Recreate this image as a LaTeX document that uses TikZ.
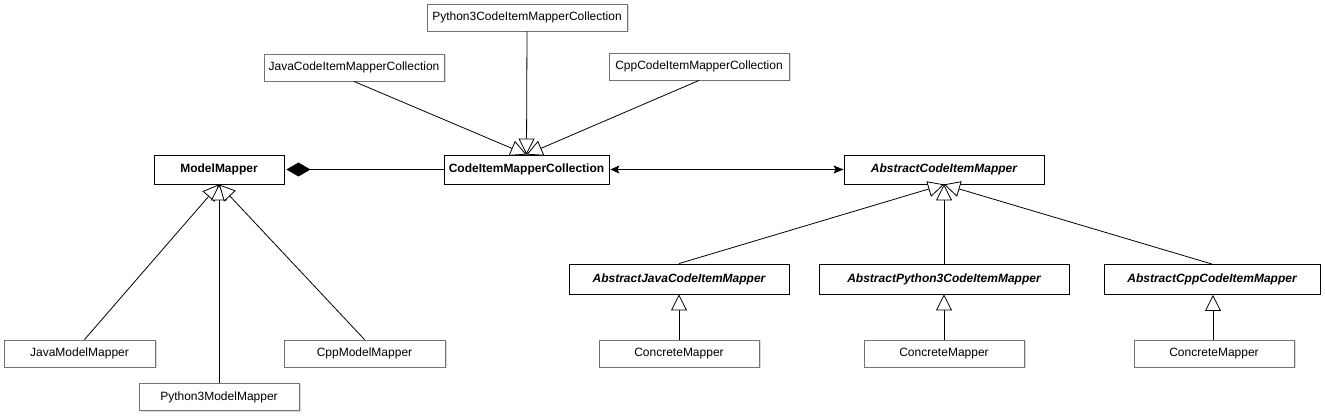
\documentclass[tikz,border=0pt]{standalone}
\usepackage{fontspec}
\setmainfont{Liberation Sans}
\usetikzlibrary{arrows.meta, positioning, shadows}
\tikzset{
  x=1pt, y=-1pt,
  node distance=73pt,
  every node/.style={font=\fontsize{12}{14}\selectfont, inner sep=0pt, minimum height=27pt, fill=white},
  plainbox/.style={draw=black!55, line width=0.9pt, drop shadow={shadow xshift=1.5pt, shadow yshift=-1.5pt, opacity=0.3}},
  boldbox/.style={draw=black, line width=0.9pt, minimum height=29pt, font=\fontsize{12}{14}\selectfont\bfseries},
  absbox/.style={boldbox, minimum height=30pt, font=\fontsize{12}{14}\selectfont\bfseries\itshape},
  inherits/.style={line width=0.8pt, -{Triangle[open, length=16pt, width=16pt, fill=white]}},
  owns/.style={line width=0.8pt, {Diamond[length=24pt, width=14pt]}-},
  assoc/.style={line width=0.8pt, {Stealth[length=9pt, width=8pt, inset=2pt]}-{Stealth[length=10pt, width=8pt, inset=2pt]}},
}
\begin{document}
\begin{tikzpicture}
  \useasboundingbox (0,0) rectangle (1325,419);

  % central classes
  \node[boldbox, minimum width=130pt] (mm) at (219,169.5) {ModelMapper};
  \node[boldbox, minimum width=165pt] (cimc) at (526.5,169.5) {CodeItemMapperCollection};
  \node[absbox, minimum width=200pt, minimum height=29pt] (acim) at (944,169.5) {AbstractCodeItemMapper};

  % collections
  \node[plainbox, minimum width=180pt] (jcimc) at (354,67.5) {JavaCodeItemMapperCollection};
  \node[plainbox, minimum width=200pt] (pcimc) at (527,17.5) {Python3CodeItemMapperCollection};
  \node[plainbox, minimum width=180pt] (ccimc) at (699,66.5) {CppCodeItemMapperCollection};

  % model mappers
  \node[plainbox, minimum width=151pt] (jmm) at (79.5,353.5) {JavaModelMapper};
  \node[plainbox, minimum width=160pt] (pmm) at (219,397) {Python3ModelMapper};
  \node[plainbox, minimum width=161pt] (cmm) at (364.5,353.5) {CppModelMapper};

  % abstract mappers
  \node[absbox, minimum width=220pt] (ajcim) at (679,279) {AbstractJavaCodeItemMapper};
  \node[absbox, minimum width=250pt] (apcim) at (944,279) {AbstractPython3CodeItemMapper};
  \node[absbox, minimum width=216pt] (accim) at (1212,279.5) {AbstractCppCodeItemMapper};

  % concrete mappers
  \node[plainbox, minimum width=160pt, below of=ajcim, yshift=-1.5pt] (jcm) {ConcreteMapper};
  \node[plainbox, minimum width=160pt, below of=apcim, yshift=-1.5pt] (pcm) {ConcreteMapper};
  \node[plainbox, minimum width=160pt, below of=accim, yshift=-1pt, xshift=2pt] (ccm) {ConcreteMapper};

  \draw[owns] ([xshift=2pt]mm.east) -- (cimc.west);
  \draw[assoc] ([xshift=1pt]cimc.east) -- (acim.west);

  \draw[inherits] (jcimc.south) -- (cimc.north);
  \draw[inherits] (pcimc.south) -- (cimc.north);
  \draw[inherits] (ccimc.south) -- (cimc.north);

  \draw[inherits] ([xshift=5pt]jmm.north) -- (mm.south);
  \draw[inherits] (pmm.north) -- (mm.south);
  \draw[inherits] (cmm.north) -- (mm.south);

  \draw[inherits] (ajcim.north) -- (acim.south);
  \draw[inherits] (apcim.north) -- (acim.south);
  \draw[inherits] (accim.north) -- (acim.south);

  \draw[inherits] (jcm.north) -- (ajcim.south);
  \draw[inherits] (pcm.north) -- (apcim.south);
  \draw[inherits] ([xshift=-1pt]ccm.north) -- ([xshift=1pt]accim.south);
\end{tikzpicture}
\end{document}
